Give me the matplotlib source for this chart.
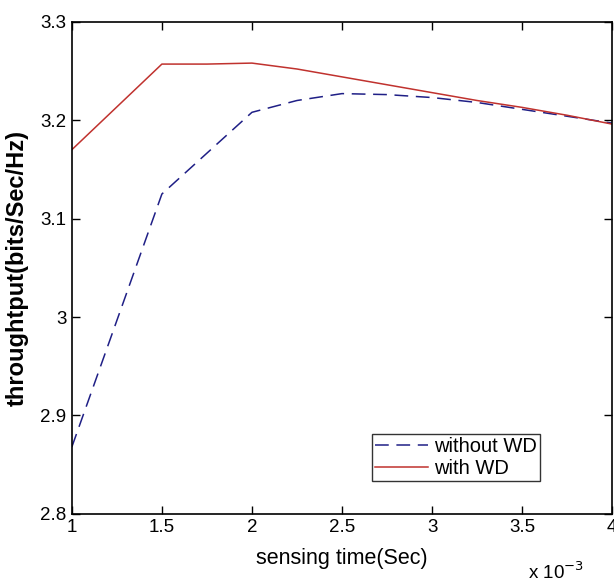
import matplotlib.pyplot as plt

# sensing time in units of 1e-3 s
time_wo = [1.0, 1.5, 2.0, 2.25, 2.5, 2.75, 3.0, 3.25, 3.5, 3.75, 4.0]
thr_wo = [2.868, 3.125, 3.208, 3.220, 3.227, 3.226, 3.223, 3.218, 3.211, 3.204, 3.197]

time_w = [1.0, 1.5, 1.75, 2.0, 2.25, 2.5, 2.75, 3.0, 3.25, 3.5, 3.75, 4.0]
thr_w = [3.170, 3.257, 3.257, 3.258, 3.252, 3.244, 3.236, 3.228, 3.220, 3.213, 3.205, 3.196]

xticks = [1, 1.5, 2, 2.5, 3, 3.5, 4]
yticks = [2.8, 2.9, 3.0, 3.1, 3.2, 3.3]
ytick_labels = ['2.8', '2.9', '3', '3.1', '3.2', '3.3']

plt.rcParams['font.family'] = ['Liberation Sans', 'DejaVu Sans']

fig = plt.figure(figsize=(6.14, 5.88), dpi=100)
ax = fig.add_axes([0.117, 0.126, 0.88, 0.837])

ax.plot(time_wo, thr_wo, color='#1f1f86', lw=1.1, dashes=(9, 5), label='without WD')
ax.plot(time_w, thr_w, color='#c0322e', lw=1.1, label='with WD')

ax.set_xlim(1, 4)
ax.set_ylim(2.8, 3.3)
ax.set_xticks(xticks)
ax.set_xticklabels([f'{t:g}' for t in xticks])
ax.set_yticks(yticks)
ax.set_yticklabels(ytick_labels)
ax.tick_params(direction='in', length=6, width=1, labelsize=13.5, top=True, right=True, pad=4)
for s in ax.spines.values():
    s.set_linewidth(1.2)

ax.set_xlabel('sensing time(Sec)', fontsize=15.5, labelpad=8)
ax.set_ylabel('throughtput(bits/Sec/Hz)', fontsize=17, fontweight='bold', labelpad=8)

fig.text(0.86, 0.008, r'x 10$^{-3}$', fontsize=13.5, ha='left', va='bottom')

leg = ax.legend(loc='lower left', bbox_to_anchor=(0.556, 0.067), fontsize=14.5,
                frameon=True, fancybox=False, handlelength=2.6, borderpad=0.15,
                labelspacing=0.15, handletextpad=0.3, borderaxespad=0)
leg.get_frame().set_edgecolor('black')
leg.get_frame().set_linewidth(1.0)

fig.savefig('out.png', dpi=100)
